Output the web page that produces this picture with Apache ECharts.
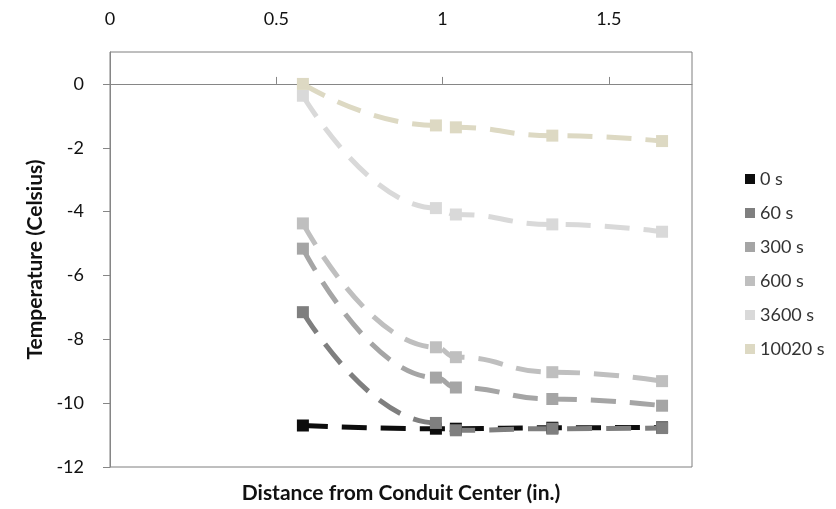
<!DOCTYPE html>
<html><head><meta charset="utf-8">
<script src="https://cdn.jsdelivr.net/npm/echarts@6/dist/echarts.min.js"></script>
<style>html,body{margin:0;padding:0;background:#fff}#c{width:836px;height:509px}</style>
</head><body><div id="c"></div>
<script>
const distances = [0.58, 0.98, 1.04, 1.33, 1.66];
const seriesNames = ['0 s', '60 s', '300 s', '600 s', '3600 s', '10020 s'];
const t0 = [-10.7, -10.8, -10.8, -10.77, -10.76];
const t60 = [-7.15, -10.62, -10.85, -10.8, -10.78];
const t300 = [-5.16, -9.2, -9.51, -9.87, -10.08];
const t600 = [-4.37, -8.25, -8.56, -9.03, -9.31];
const t3600 = [-0.37, -3.89, -4.09, -4.4, -4.63];
const t10020 = [0.0, -1.3, -1.36, -1.62, -1.79];
const xTicks = [0, 0.5, 1, 1.5];
const yTicks = [-12, -10, -8, -6, -4, -2, 0];
const colors = ['#0d0d0d', '#7f7f7f', '#a5a5a5', '#bfbfbf', '#d9d9d9', '#ddd9c3'];
const allValues = [t0, t60, t300, t600, t3600, t10020];

const font = 'Lato, "Open Sans", sans-serif';
const chart = echarts.init(document.getElementById('c'));
chart.setOption({
  animation: false,
  grid: { left: 110, right: 144, top: 52, bottom: 33, show: true, borderColor: '#7f7f7f', borderWidth: 1, backgroundColor: '#fff' },
  legend: {
    orient: 'vertical', left: 740, top: 165, icon: 'rect', itemWidth: 10, itemHeight: 10, itemGap: 16,
    data: seriesNames,
    textStyle: { fontFamily: font, fontSize: 18, color: '#333' }
  },
  xAxis: [{
    type: 'value', position: 'top', min: 0, max: 1.75,
    axisLine: { show: true, lineStyle: { color: '#868686' } },
    axisTick: { show: true, inside: false, length: 7, customValues: xTicks, lineStyle: { color: '#868686' } },
    axisLabel: { customValues: xTicks, margin: 24, fontFamily: font, fontSize: 18, color: '#111' },
    splitLine: { show: false }
  }, {
    type: 'value', position: 'bottom', min: 0, max: 1.75,
    axisLine: { show: false }, axisTick: { show: false }, axisLabel: { show: false }, splitLine: { show: false },
    name: 'Distance from Conduit Center (in.)', nameLocation: 'middle', nameGap: 16,
    nameTextStyle: { fontFamily: font, fontSize: 21, fontWeight: 'bold', color: '#111' }
  }],
  yAxis: {
    type: 'value', min: -12, max: 1,
    axisLine: { show: true, lineStyle: { color: '#868686' } },
    axisTick: { show: true, length: 7, customValues: yTicks, lineStyle: { color: '#868686' } },
    axisLabel: { customValues: yTicks, margin: 26, fontFamily: font, fontSize: 18, color: '#111' },
    splitLine: { show: false },
    name: 'Temperature (Celsius)', nameLocation: 'middle', nameGap: 48,
    nameTextStyle: { fontFamily: font, fontSize: 21, fontWeight: 'bold', color: '#111' }
  },
  series: seriesNames.map((n, i) => ({
    name: n, type: 'line', xAxisIndex: 0, smooth: 0.5, smoothMonotone: 'x',
    symbol: 'rect', symbolSize: 12, showAllSymbol: true,
    itemStyle: { color: colors[i] },
    lineStyle: { color: colors[i], width: 5, type: [25, 14], cap: 'butt' },
    data: distances.map((x, j) => [x, allValues[i][j]])
  }))
});
</script></body></html>
